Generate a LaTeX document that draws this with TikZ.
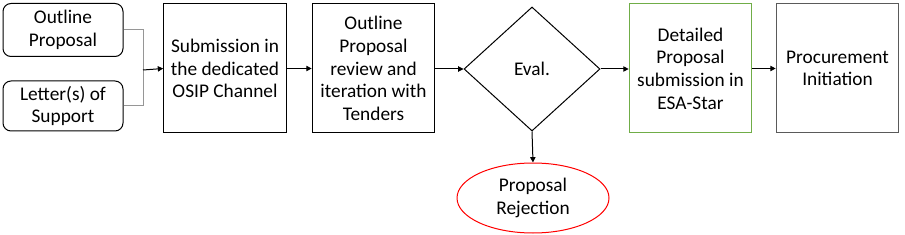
\documentclass[tikz,border=0pt]{standalone}
\usepackage{fontspec}
\setmainfont{Carlito}
\usetikzlibrary{shapes.geometric,arrows.meta}
\definecolor{boxgreen}{RGB}{112,173,71}
\definecolor{boxgray}{RGB}{90,90,90}
\definecolor{linegray}{RGB}{150,150,150}
\begin{document}
\begin{tikzpicture}[x=0.75pt,y=-0.75pt,
  every node/.style={font=\fontsize{14.5}{17}\selectfont, align=center, inner sep=0pt},
  rbox/.style={draw=black, line width=0.75pt, rounded corners=6pt, minimum width=90pt},
  pbox/.style={draw=black, line width=0.75pt, minimum height=96.75pt, minimum width=92pt},
  conn/.style={line width=0.75pt, -{Triangle[length=4pt,width=4pt]}},
  gconn/.style={line width=0.75pt, draw=linegray}]
\useasboundingbox (0,0) rectangle (905,235);
\node[rbox, minimum height=39.75pt] (op) at (63,30) {Outline\\Proposal};
\node[rbox, minimum height=37.5pt] (ls) at (63,106) {Letter(s) of\\Support};
\node[pbox] (sub) at (225,68.5) {Submission in\\the dedicated\\OSIP Channel};
\node[pbox] (rev) at (373.5,68.5) {Outline\\Proposal\\review and\\iteration with\\Tenders};
\node[draw=black, line width=0.75pt, diamond, aspect=1.1, minimum width=102pt, minimum height=93pt] (dia) at (532,69) {Eval.};
\node[draw=red, line width=0.75pt, ellipse, minimum width=114pt, minimum height=52.5pt] (rej) at (533,198) {Proposal\\Rejection};
\node[pbox, draw=boxgreen] (det) at (690.5,68.5) {Detailed\\Proposal\\submission in\\ESA-Star};
\node[pbox, draw=boxgray] (proc) at (837.5,68.5) {Procurement\\Initiation};
\coordinate (j) at (143,70);
\draw[gconn] (op.east) -| (j);
\draw[gconn] (ls.east) -| (j);
\draw[conn] (j) -- (sub.west);
\draw[conn] (sub.east) -- (sub.east -| rev.west);
\draw[conn] (rev.east |- dia.west) -- (dia.west);
\draw[conn] (dia.south) -- (rej.north);
\draw[conn] (dia.east) -- (dia.east -| det.west);
\draw[conn] (det.east) -- (proc.west);
\end{tikzpicture}
\end{document}
